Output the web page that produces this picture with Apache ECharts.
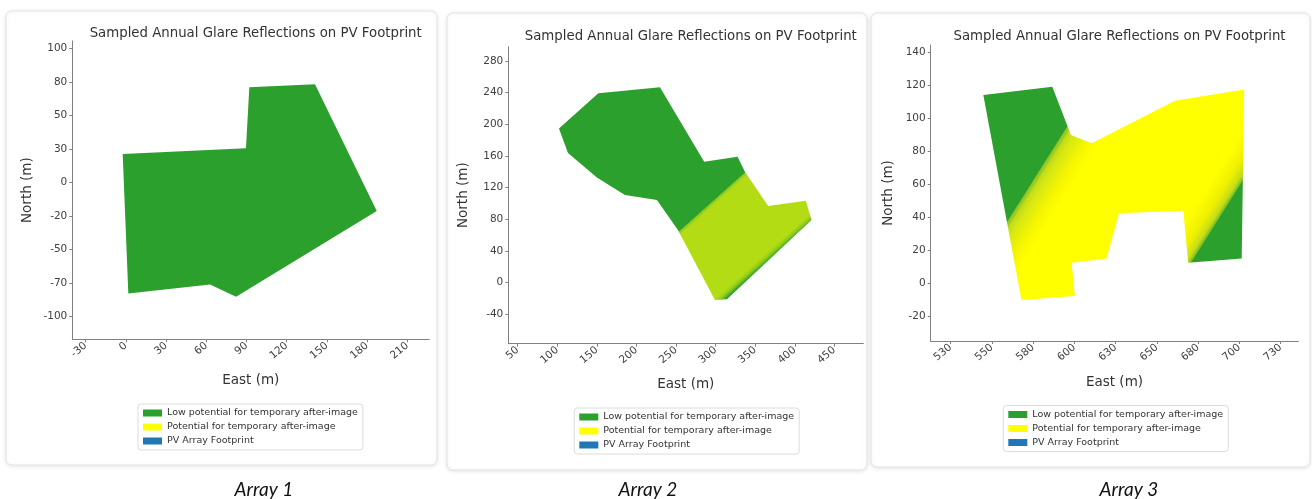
<!DOCTYPE html>
<html>
<head>
<meta charset="utf-8">
<title>Sampled Annual Glare Reflections on PV Footprint</title>
<script src="https://cdn.jsdelivr.net/npm/echarts@6/dist/echarts.min.js"></script>
<style>
  html, body { margin: 0; padding: 0; background: #ffffff; }
  #chart { width: 1312px; height: 499px; }
</style>
</head>
<body>
<div id="chart"></div>
<script>
// ---- Array footprints (East / North, metres) ----
const array1East  = [-2.4, 89.6, 92.1, 141.1, 187.2, 82.2, 62.8, 1.8];
const array1North = [21.2, 25.5, 70.9, 73.2, -21.2, -85.1, -75.9, -82.6];

const array2East  = [102.1, 151.8, 229.7, 285.6, 327.8, 337.0, 366.4, 414.0, 421.2, 314.3, 299.2, 252.4, 225.9, 185.5, 150.0, 113.5];
const array2North = [194.8, 239.2, 246.8, 152.9, 159.2, 140.2, 96.9, 103.6, 79.2, -20.9, -21.8, 66.6, 104.5, 110.8, 133.0, 163.8];

const array3East  = [544.8, 586.6, 597.9, 610.5, 660.9, 702.9, 701.4, 669.0, 666.0, 627.0, 619.5, 598.3, 600.3, 567.9];
const array3North = [113.8, 118.8, 89.6, 84.6, 110.3, 117.2, 14.9, 12.3, 43.8, 42.2, 14.9, 12.3, -7.9, -10.3];

// Glare zone boundaries: point where the low-potential zone ends and
// point where it begins again, across the footprint (East, North)
const array2GlareFrom = [252.4, 64.1];
const array2GlareTo   = [321.4, -13.0];
const array3GlareFrom = [560.9, 40.1];
const array3GlareTo   = [652.2, -17.4];

// ---- Axis ticks and their labels ----
const array1XTicks  = [-30, 0, 30, 60, 90, 120, 150, 180, 210];
const array1XLabels = ['-30', '0', '30', '60', '90', '120', '150', '180', '210'];
const array1YTicks  = [-100, -75, -50, -25, 0, 25, 50, 75, 100];
const array1YLabels = ['-100', '-70', '-50', '-20', '0', '30', '50', '80', '100'];

const array2XTicks  = [50, 100, 150, 200, 250, 300, 350, 400, 450];
const array2XLabels = ['50', '100', '150', '200', '250', '300', '350', '400', '450'];
const array2YTicks  = [-40, 0, 40, 80, 120, 160, 200, 240, 280];
const array2YLabels = ['-40', '0', '40', '80', '120', '160', '200', '240', '280'];

const array3XTicks  = [525, 550, 575, 600, 625, 650, 675, 700, 725];
const array3XLabels = ['530', '550', '580', '600', '630', '650', '680', '700', '730'];
const array3YTicks  = [-20, 0, 20, 40, 60, 80, 100, 120, 140];
const array3YLabels = ['-20', '0', '20', '40', '60', '80', '100', '120', '140'];

// ---- Texts ----
const chartTitle = 'Sampled Annual Glare Reflections on PV Footprint';
const legendNames = [
  'Low potential for temporary after-image',
  'Potential for temporary after-image',
  'PV Array Footprint'
];
const captions = ['Array 1', 'Array 2', 'Array 3'];

// ---- Colours ----
const GREEN = '#2ca02c';
const YELLOW = '#ffff00';
const BLUE = '#1f77b4';
const FONT = '"DejaVu Sans", sans-serif';

// ---- Panel layout (pixels) ----
const panels = [
  { grid: { left: 72.3, top: 41, width: 357, height: 298.3 },
    x: [-40, 226.4], y: [-116.8, 105.4], titleX: 250.7, titleY: 22,
    legend: { left: 138, top: 404 }, nameGapY: 38, card: [6, 11, 431, 454], captionX: 264 },
  { grid: { left: 508.3, top: 46.7, width: 355, height: 297 },
    x: [38.1, 486.6], y: [-77.0, 298.1], titleX: 685.8, titleY: 25.5,
    legend: { left: 574.3, top: 408 }, nameGapY: 37.5, card: [447, 13, 420, 457], captionX: 648 },
  { grid: { left: 930.7, top: 45, width: 367.6, height: 296 },
    x: [512.9, 735.7], y: [-35.1, 144.1], titleX: 1114.5, titleY: 25.5,
    legend: { left: 1003.3, top: 405.5 }, nameGapY: 35, card: [871, 13, 439, 454], captionX: 1129 }
];

const ticks = [
  { x: array1XTicks, xl: array1XLabels, y: array1YTicks, yl: array1YLabels },
  { x: array2XTicks, xl: array2XLabels, y: array2YTicks, yl: array2YLabels },
  { x: array3XTicks, xl: array3XLabels, y: array3YTicks, yl: array3YLabels }
];

function labelFor(values, labels) {
  return function (v) {
    let best = 0;
    for (let i = 1; i < values.length; i++) {
      if (Math.abs(values[i] - v) < Math.abs(values[best] - v)) best = i;
    }
    return labels[best];
  };
}

const axisColor = '#808080';
const labelColor = '#404040';

const grids = [], xAxes = [], yAxes = [], titles = [], legends = [], graphics = [];

panels.forEach(function (p, i) {
  grids.push(Object.assign({ containLabel: false }, p.grid));
  xAxes.push({
    type: 'value', gridIndex: i, min: p.x[0], max: p.x[1],
    name: 'East (m)', nameLocation: 'middle', nameGap: 34,
    nameTextStyle: { fontFamily: FONT, fontSize: 13.5, color: '#333' },
    axisLine: { show: true, onZero: false, lineStyle: { color: axisColor, width: 1 } },
    axisTick: { show: true, length: 3, customValues: ticks[i].x, lineStyle: { color: axisColor } },
    axisLabel: {
      customValues: ticks[i].x, formatter: labelFor(ticks[i].x, ticks[i].xl),
      rotate: 40, margin: 5, fontFamily: FONT, fontSize: 10.5, color: labelColor
    },
    splitLine: { show: false }
  });
  yAxes.push({
    type: 'value', gridIndex: i, min: p.y[0], max: p.y[1],
    name: 'North (m)', nameLocation: 'middle', nameGap: p.nameGapY, nameRotate: 90,
    nameTextStyle: { fontFamily: FONT, fontSize: 13.5, color: '#333' },
    axisLine: { show: true, onZero: false, lineStyle: { color: axisColor, width: 1 } },
    axisTick: { show: true, length: 3, customValues: ticks[i].y, lineStyle: { color: axisColor } },
    axisLabel: {
      customValues: ticks[i].y, formatter: labelFor(ticks[i].y, ticks[i].yl),
      margin: 5, fontFamily: FONT, fontSize: 10.5, color: labelColor
    },
    splitLine: { show: false }
  });
  titles.push({
    text: chartTitle, left: p.titleX, top: p.titleY, textAlign: 'center',
    textStyle: { fontFamily: FONT, fontSize: 13.3, fontWeight: 'normal', color: '#333' }
  });
  legends.push({
    data: legendNames, orient: 'vertical', left: p.legend.left, top: p.legend.top,
    icon: 'rect', itemWidth: 19, itemHeight: 7, itemGap: 4, padding: [4, 5, 4, 5],
    borderColor: '#dcdcdc', borderWidth: 1, borderRadius: 3,
    textStyle: { fontFamily: FONT, fontSize: 9.5, color: '#333' },
    selectedMode: false
  });
  graphics.push({
    type: 'rect', z: -10, silent: true,
    shape: { x: p.card[0], y: p.card[1], width: p.card[2], height: p.card[3], r: 6 },
    style: { fill: '#ffffff', stroke: '#e4e4e4', lineWidth: 1,
             shadowBlur: 4, shadowColor: 'rgba(0,0,0,0.10)', shadowOffsetY: 1 }
  });
  graphics.push({
    type: 'text', silent: true, x: p.captionX, y: 490,
    style: { text: captions[i], fontFamily: 'Lato, "Open Sans", sans-serif', fontStyle: 'italic',
             fontSize: 19, fill: '#111', textAlign: 'center', textVerticalAlign: 'middle' }
  });
});

function vertices(east, north) {
  return east.map(function (e, k) { return [e, north[k]]; });
}

// Footprint polygon drawn through the cartesian scales; fill decides glare colouring
function footprintSeries(idx, east, north, fill) {
  const verts = vertices(east, north);
  return {
    type: 'custom', name: 'Array ' + (idx + 1),
    coordinateSystem: 'cartesian2d', xAxisIndex: idx, yAxisIndex: idx,
    data: [verts[0]], silent: true, clip: false,
    renderItem: function (params, api) {
      const pts = verts.map(function (v) { return api.coord(v); });
      return {
        type: 'polygon',
        shape: { points: pts },
        style: { fill: typeof fill === 'function' ? fill(api) : fill }
      };
    }
  };
}

function glareGradient(from, to, stops) {
  return function (api) {
    const a = api.coord(from), b = api.coord(to);
    return new echarts.graphic.LinearGradient(a[0], a[1], b[0], b[1], stops, true);
  };
}

const array2Stops = [
  { offset: 0, color: GREEN },
  { offset: 0.006, color: '#7fc21f' },
  { offset: 0.03, color: '#a2d41a' },
  { offset: 0.05, color: '#b4dc14' },
  { offset: 0.91, color: '#b4dc14' },
  { offset: 0.955, color: '#8ecb1b' },
  { offset: 0.985, color: '#4caf27' },
  { offset: 1, color: GREEN }
];
const array3Stops = [
  { offset: 0, color: GREEN },
  { offset: 0.004, color: '#8cc423' },
  { offset: 0.02, color: '#a6d01e' },
  { offset: 0.026, color: '#c0dc1a' },
  { offset: 0.06, color: '#d8e812' },
  { offset: 0.14, color: '#f6f600' },
  { offset: 0.2, color: YELLOW },
  { offset: 0.85, color: YELLOW },
  { offset: 0.93, color: '#eef000' },
  { offset: 0.975, color: '#c6dd18' },
  { offset: 0.995, color: '#7cbf24' },
  { offset: 1, color: GREEN }
];

// Legend-only series carrying the category colours
function legendSeries(name, color) {
  return {
    type: 'custom', name: name, coordinateSystem: 'cartesian2d',
    xAxisIndex: 0, yAxisIndex: 0, data: [],
    itemStyle: { color: color },
    renderItem: function () { return null; }
  };
}

const option = {
  backgroundColor: '#ffffff',
  animation: false,
  title: titles,
  legend: legends,
  grid: grids,
  xAxis: xAxes,
  yAxis: yAxes,
  graphic: { elements: graphics },
  series: [
    legendSeries(legendNames[0], GREEN),
    legendSeries(legendNames[1], YELLOW),
    legendSeries(legendNames[2], BLUE),
    footprintSeries(0, array1East, array1North, GREEN),
    footprintSeries(1, array2East, array2North, glareGradient(array2GlareFrom, array2GlareTo, array2Stops)),
    footprintSeries(2, array3East, array3North, glareGradient(array3GlareFrom, array3GlareTo, array3Stops))
  ]
};

const chart = echarts.init(document.getElementById('chart'), null, { renderer: 'canvas' });
chart.setOption(option);
</script>
</body>
</html>
